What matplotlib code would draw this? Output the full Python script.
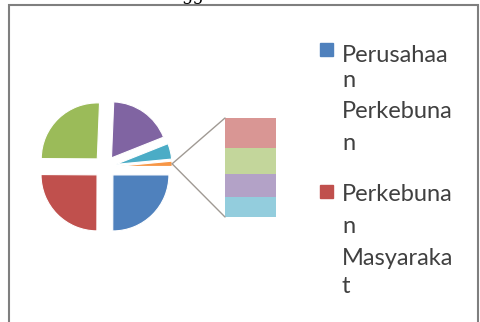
import numpy as np
import matplotlib.pyplot as plt
from matplotlib.patches import Rectangle, ConnectionPatch

W, H = 480, 322

# main pie, clockwise from 3 o'clock; the last slice is the "other" group shown in the bar
pie_labels = ["Perusahaan Perkebunan", "Perkebunan Masyarakat", "Kategori 3", "Kategori 4", "Kategori 5", "Lainnya"]
pie_values = [25.0, 25.0, 25.5, 18.3, 4.5]
pie_colors = ["#4F81BD", "#C0504D", "#9BBB59", "#8064A2", "#4BACC6", "#F79646"]

# breakdown of the "other" slice, top to bottom of the bar
bar_labels = ["Kategori 6", "Kategori 7", "Kategori 8", "Kategori 9"]
bar_values = [0.45, 0.41, 0.35, 0.30]
bar_colors = ["#D99694", "#C3D69B", "#B3A2C7", "#93CDDD"]

# legend texts, wrapped as in the original
legend_lines = [["Perusahaa", "n", "Perkebuna", "n"],
                ["Perkebuna", "n", "Masyaraka", "t"]]


def fx(x):
    return x / W


def fy(y):
    return 1 - y / H


fig = plt.figure(figsize=(W / 100, H / 100), dpi=100)

# pie axes covering the whole figure, 1 data unit = 56 px
R = 56
cx, cy = 105, 167
ax = fig.add_axes([0, 0, 1, 1])
values = pie_values + [sum(bar_values)]
wedges, _ = ax.pie(
    values,
    colors=pie_colors,
    startangle=0,
    counterclock=False,
    explode=[0.2] * len(values),
    wedgeprops=dict(edgecolor="white", linewidth=0.8),
)
ax.set_xlim(-cx / R, (W - cx) / R)
ax.set_ylim(-(H - cy) / R, cy / R)
ax.set_aspect("auto")
ax.axis("off")

# stacked bar for the "other" breakdown
ax2 = fig.add_axes([fx(225), fy(217), fx(276) - fx(225), fy(118) - fy(217)])
bottom = 0
for v, c in zip(bar_values[::-1], bar_colors[::-1]):
    ax2.bar(0, v, bottom=bottom, width=1, color=c, edgecolor="none")
    bottom += v
ax2.set_xlim(-0.5, 0.5)
ax2.set_ylim(0, sum(bar_values))
ax2.axis("off")

# connector lines from the small slice to the bar corners
w = wedges[-1]
mid = np.deg2rad((w.theta1 + w.theta2) / 2)
tip = (w.center[0] + w.r * np.cos(mid), w.center[1] + w.r * np.sin(mid))
for yb in (sum(bar_values), 0):
    con = ConnectionPatch(xyA=tip, coordsA=ax.transData, xyB=(-0.5, yb), coordsB=ax2.transData,
                          color="#A09A94", linewidth=1.0)
    fig.add_artist(con)

# legend drawn by hand so the wrapped lines match the original
baselines = [[62, 87, 118, 150], [201, 233, 265, 293]]
marker_top = [43, 185]
for lines, bases, mt, col in zip(legend_lines, baselines, marker_top, pie_colors):
    fig.add_artist(Rectangle((fx(320), fy(mt + 13)), fx(13), fy(0) - fy(13),
                             transform=fig.transFigure, color=col))
    for line, b in zip(lines, bases):
        fig.text(fx(342), fy(b), line, va="baseline", ha="left", fontsize=17,
                 family="Lato", color="#404040")

# chart frame
fig.add_artist(Rectangle((fx(8.5), fy(H + 10)), fx(469), fy(4.5) - fy(H + 10),
                         transform=fig.transFigure, fill=False, edgecolor="#7F7F7F", linewidth=1.5))
# descenders of the text above the chart
fig.text(fx(181), 1.0, "gg", va="baseline", ha="left", fontsize=13, family="DejaVu Serif", color="black")

fig.savefig("out.png", dpi=100)
